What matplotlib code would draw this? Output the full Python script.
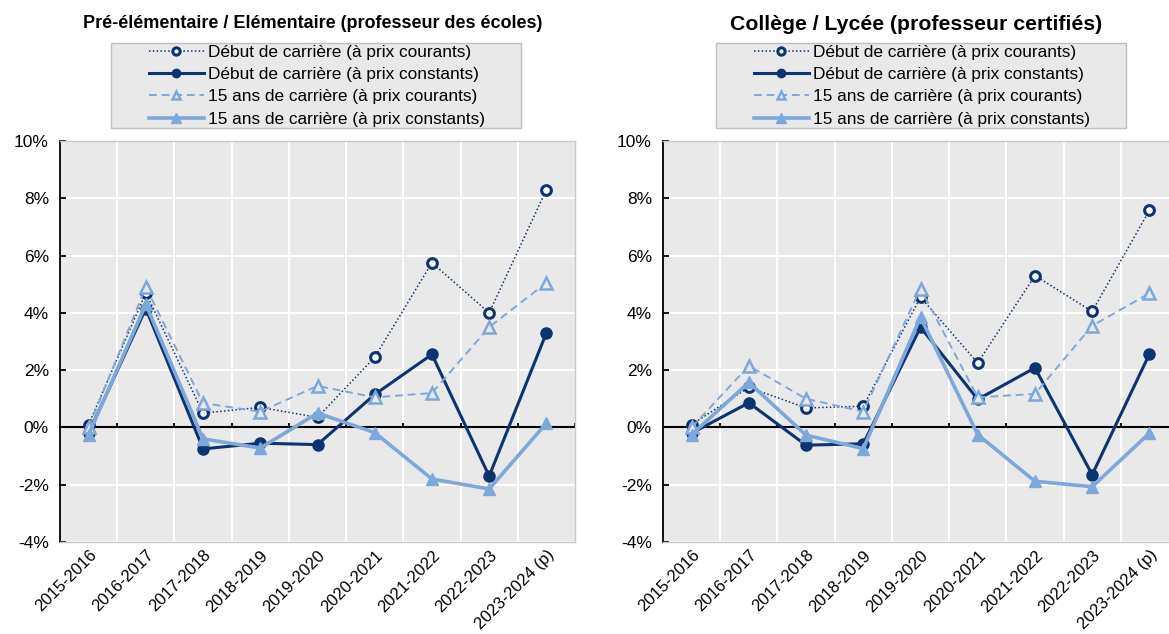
import matplotlib
matplotlib.use("Agg")
import matplotlib.pyplot as plt
import numpy as np
from matplotlib.ticker import FuncFormatter
from matplotlib.patches import Rectangle

plt.rcParams['font.family'] = ['Liberation Sans', 'DejaVu Sans']

years = ["2015-2016", "2016-2017", "2017-2018", "2018-2019", "2019-2020",
         "2020-2021", "2021-2022", "2022-2023", "2023-2024 (p)"]

labels = ["Début de carrière (à prix courants)",
          "Début de carrière (à prix constants)",
          "15 ans de carrière (à prix courants)",
          "15 ans de carrière (à prix constants)"]

# Pré-élémentaire / Elémentaire
ecole_debut_courants = [0.1, 4.7, 0.5, 0.7, 0.35, 2.45, 5.75, 4.0, 8.3]
ecole_debut_constants = [-0.2, 4.15, -0.75, -0.55, -0.6, 1.15, 2.55, -1.7, 3.3]
ecole_15_courants = [0.0, 4.9, 0.85, 0.55, 1.45, 1.05, 1.2, 3.5, 5.05]
ecole_15_constants = [-0.25, 4.3, -0.4, -0.72, 0.5, -0.18, -1.8, -2.15, 0.15]

# Collège / Lycée
lycee_debut_courants = [0.1, 1.4, 0.68, 0.74, 4.55, 2.25, 5.3, 4.05, 7.58]
lycee_debut_constants = [-0.2, 0.86, -0.62, -0.57, 3.5, 0.98, 2.08, -1.65, 2.56]
lycee_15_courants = [0.0, 2.15, 1.0, 0.55, 4.85, 1.05, 1.17, 3.55, 4.68]
lycee_15_constants = [-0.25, 1.57, -0.27, -0.74, 3.85, -0.25, -1.88, -2.07, -0.2]

navy = "#0D3470"
light = "#7EA7DA"
bg = "#E9E9E9"

styles = [
    dict(color=navy, linestyle=(0, (1, 1.5)), linewidth=1.1, marker="o",
         markersize=7, markerfacecolor="white", markeredgecolor=navy, markeredgewidth=2.2),
    dict(color=navy, linestyle="-", linewidth=2.2, marker="o", markersize=8,
         markerfacecolor=navy, markeredgecolor=navy),
    dict(color=light, linestyle=(0, (4, 2.5)), linewidth=1.4, marker="^",
         markersize=8, markerfacecolor=bg, markeredgecolor=light, markeredgewidth=1.8),
    dict(color=light, linestyle="-", linewidth=2.6, marker="^", markersize=9,
         markerfacecolor=light, markeredgecolor=light),
]

fig = plt.figure(figsize=(11.69, 6.34), dpi=100)
W, H = 1169, 634


def panel(left_px, title, title_x, title_size, leg_left, series):
    ax = fig.add_axes([left_px / W, 1 - 542 / H, 515 / W, 401 / H])
    ax.set_facecolor(bg)
    x = np.arange(len(years))
    for vals, st, lab in zip(series, styles, labels):
        ax.plot(x, vals, label=lab, zorder=3, **st)
    ax.set_xlim(-0.5, len(years) - 0.5)
    ax.set_ylim(-4, 10)
    ax.set_yticks(np.arange(-4, 11, 2))
    ax.yaxis.set_major_formatter(FuncFormatter(lambda v, p: f"{v:.0f}%"))
    ax.set_xticks(x)
    ax.set_xticklabels(years, rotation=45, ha="right", va="top",
                       rotation_mode="anchor", fontsize=12)
    ax.tick_params(axis="x", length=0, pad=4)
    ax.tick_params(axis="y", direction="in", length=4, width=1.3,
                   labelsize=12.5, pad=8)
    ax.set_xticks(np.arange(0.5, len(years) - 1, 1), minor=True)
    ax.tick_params(axis="x", which="minor", length=0)
    ax.grid(True, which="minor", axis="x", color="white", linewidth=1.5)
    ax.grid(True, which="major", axis="y", color="white", linewidth=1.5)
    ax.set_axisbelow(True)
    for s in ["top", "right", "bottom"]:
        ax.spines[s].set_color("#C8C8C8")
        ax.spines[s].set_linewidth(1)
    ax.spines["left"].set_color("black")
    ax.spines["left"].set_linewidth(1.3)

    # zero line with small boundary ticks
    ax.axhline(0, color="black", linewidth=1.5, zorder=2)
    ax.vlines(np.arange(0.5, len(years), 1), 0, 0.15, color="black",
              linewidth=1.3, zorder=2)

    fig.text(title_x / W, 1 - 24 / H, title, ha="center", va="center",
             fontsize=title_size, fontweight="bold")

    # legend box
    fig.patches.append(Rectangle((leg_left / W, 1 - 128 / H), 410 / W, 85 / H,
                                 transform=fig.transFigure, facecolor=bg,
                                 edgecolor="#C0C0C0", linewidth=1, zorder=-1))
    ax.legend(loc="upper left", bbox_to_anchor=((leg_left + 36) / W, 1 - 43 / H),
              bbox_transform=fig.transFigure, fontsize=12.4,
              frameon=False, handlelength=3.2, handletextpad=0.25,
              labelspacing=0.42, borderpad=0.1, borderaxespad=0,
              markerscale=0.75)
    return ax


panel(60, "Pré-élémentaire / Elémentaire (professeur des écoles)", 313, 13, 111,
      [ecole_debut_courants, ecole_debut_constants, ecole_15_courants, ecole_15_constants])
panel(663, "Collège / Lycée (professeur certifiés)", 916, 15.3, 716,
      [lycee_debut_courants, lycee_debut_constants, lycee_15_courants, lycee_15_constants])

fig.savefig("out.png", dpi=100, facecolor="white")
